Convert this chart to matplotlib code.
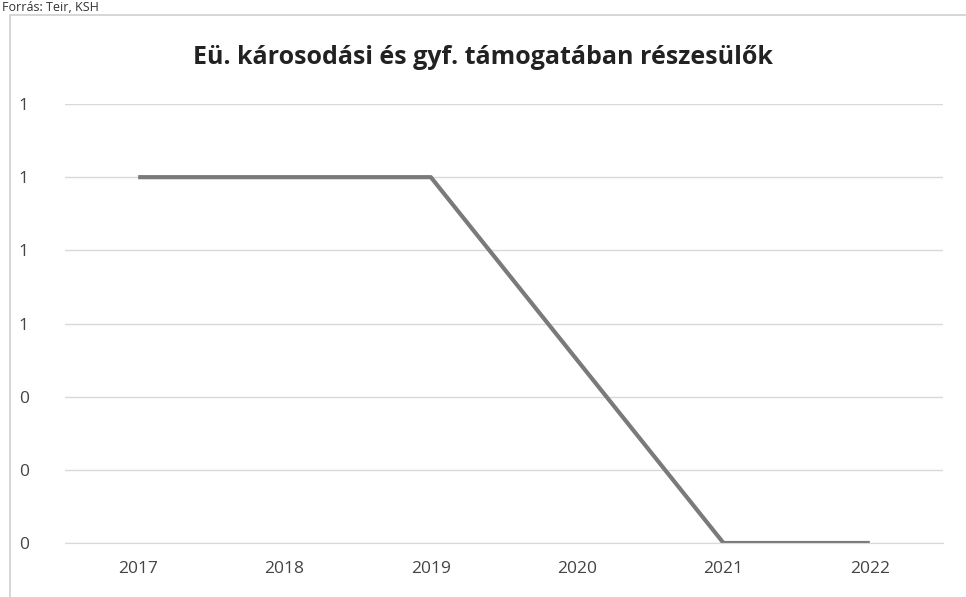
import matplotlib
matplotlib.use("Agg")
import matplotlib.pyplot as plt
from matplotlib.patches import Rectangle
from matplotlib.ticker import FuncFormatter

years = ["2017", "2018", "2019", "2020", "2021", "2022"]
values = [1.0, 1.0, 1.0, 0.5, 0.0, 0.0]
yticks = [0, 0.2, 0.4, 0.6, 0.8, 1.0, 1.2]

plt.rcParams['font.family'] = ['Open Sans', 'DejaVu Sans']

fig = plt.figure(figsize=(9.66, 5.97), dpi=100)
fig.patch.set_facecolor("white")

# chart frame
fig.patches.append(Rectangle((10/966, -0.01), 1.0, 1 - 15/597 + 0.01, transform=fig.transFigure,
                             fill=False, edgecolor="#d0d0d0", linewidth=1.2))
fig.text(0.002, 0.999, "Forrás: Teir, KSH", ha="left", va="top", fontsize=9, color="#333333")

ax = fig.add_axes([65/966, 1 - 543/597, (943 - 65)/966, (543 - 104)/597])
x = list(range(len(years)))
ax.plot(x, values, color="#7a7a7a", linewidth=3, solid_capstyle="butt")
ax.set_xlim(-0.5, len(years) - 0.5)
ax.set_ylim(0, 1.2)
ax.set_xticks(x)
ax.set_xticklabels(years)
ax.set_yticks(yticks)
ax.yaxis.set_major_formatter(FuncFormatter(lambda v, p: f"{v:.0f}"))
ax.grid(axis="y", color="#d9d9d9", linewidth=1)
ax.set_axisbelow(True)
for s in ["top", "right", "left"]:
    ax.spines[s].set_visible(False)
ax.spines["bottom"].set_color("#d9d9d9")
ax.tick_params(axis="both", length=0, labelsize=12.5, colors="#444444")
ax.tick_params(axis="x", pad=13)
ax.tick_params(axis="y", pad=26)
ax.set_facecolor("none")

fig.text(0.5, 1 - 58/597, "Eü. károsodási és gyf. támogatában részesülők", ha="center", va="center",
         fontsize=18, fontweight="bold", color="#222222")

fig.savefig("out.png", dpi=100)
